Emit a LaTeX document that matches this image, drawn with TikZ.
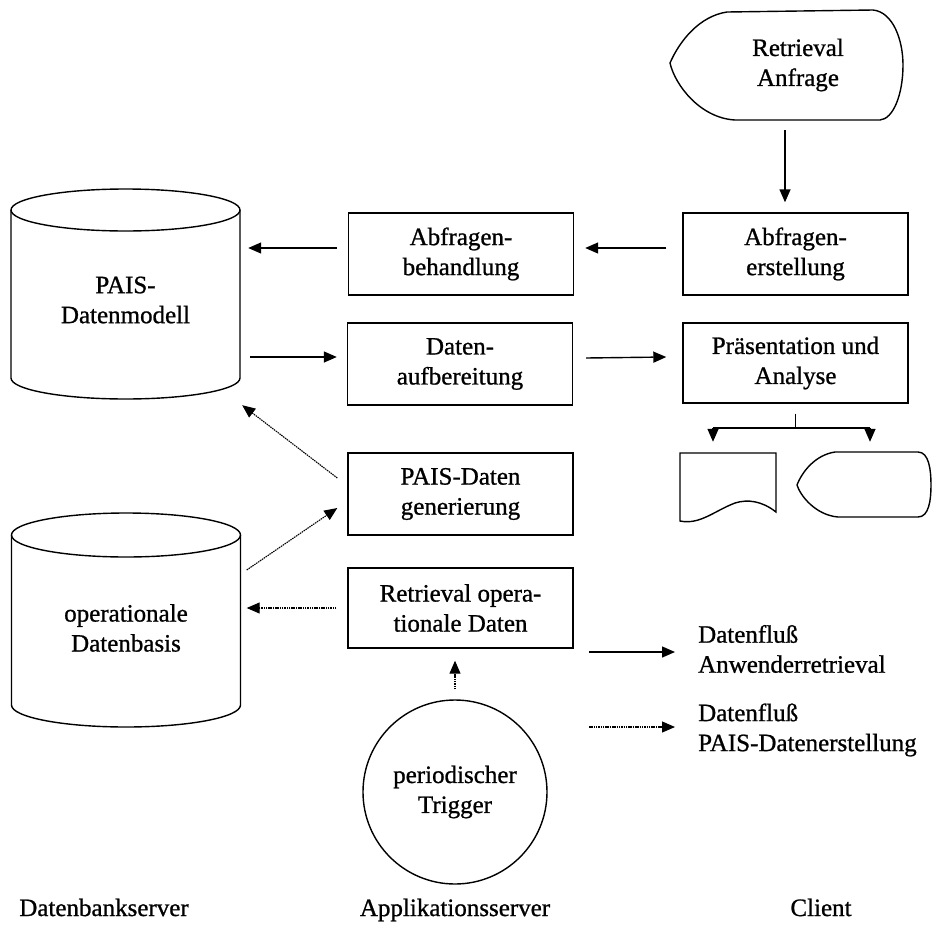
\documentclass[tikz,border=0pt]{standalone}
\usepackage{fontspec}
\setmainfont{Liberation Serif}[FakeBold=0.9]
\usetikzlibrary{arrows.meta,shapes.geometric}
\newcommand{\lblfont}{\fontsize{25}{30}\selectfont}
\tikzset{
  box/.style={draw, line width=1.4pt, minimum width=225pt, minimum height=82pt, align=center, font=\lblfont, inner sep=0pt},
  ghost/.style={inner sep=0pt, align=center, font=\lblfont},
  shp/.style={line width=1.4pt},
  arr/.style={-{Triangle[length=13pt,width=11pt]}, line width=1.4pt},
  darr/.style={-{Triangle[length=13pt,width=11pt]}, line width=1.1pt, dash pattern=on 1.5pt off 0.8pt},
  lbl/.style={font=\lblfont, align=left, inner sep=0pt}
}
\begin{document}
\begin{tikzpicture}[x=1pt,y=-1pt]
\useasboundingbox (0,0) rectangle (934,940);
% cylinders
\draw[shp] (125.5,210) ellipse [x radius=114.5, y radius=21];
\draw[shp] (11,210) -- (11,378) arc[start angle=180, end angle=0, x radius=114.5, y radius=21] -- (240,210);
\draw[shp] (126,535) ellipse [x radius=114.5, y radius=22];
\draw[shp] (11.5,535) -- (11.5,705) arc[start angle=180, end angle=0, x radius=114.5, y radius=22] -- (240.5,535);
\node[ghost, minimum width=229pt, minimum height=189pt] (pais) at (125.5,294.5) {};
\node[ghost] (paist) at (125.5,300) {PAIS-\\Datenmodell};
\node[ghost, minimum width=229pt, minimum height=214pt] (oper) at (126,620) {};
\node[ghost] (opert) at (126,628) {operationale\\Datenbasis};
% top display shape
\draw[shp] (727,12) -- (873,10) .. controls (893,12) and (903,40) .. (903,65)
  .. controls (903,95) and (893,119) .. (880,120) -- (735,120)
  .. controls (700,118) and (675,85) .. (670,63)
  .. controls (680,40) and (700,16) .. (727,12) -- cycle;
\node[ghost, minimum width=230pt, minimum height=110pt] (anfr) at (786,65) {};
\node[ghost] (anfrt) at (798,65) {Retrieval\\Anfrage};
% boxes
\node[box] (erst) at (795.5,254) {Abfragen-\\erstellung};
\node[box] (behand) at (461,254) {Abfragen-\\behandlung};
\node[box] (aufb) at (460,364) {Daten-\\aufbereitung};
\node[box, minimum height=80pt] (praes) at (795.5,363) {Präsentation und\\Analyse};
\node[box] (gen) at (460.5,494) {PAIS-Daten\\generierung};
\node[box, minimum height=80pt] (retr) at (460.5,608) {Retrieval opera-\\tionale Daten};
\node[draw, line width=1.4pt, circle, minimum size=184pt, inner sep=0pt, align=center, font=\lblfont] (trig) at (455,792) {periodischer\\Trigger};
% output shapes
\draw[shp] (680,453) -- (776,453) -- (776,512)
  .. controls (762,501) and (748,499) .. (735,503)
  .. controls (714,511) and (700,525) .. (680,521) -- cycle;
\node[ghost, minimum width=96pt, minimum height=69pt] (doc) at (728,487.5) {};
\draw[shp] (835,452) -- (918,452) .. controls (929,452) and (931,470) .. (931,485)
  .. controls (931,500) and (929,517) .. (918,517) -- (838,517)
  .. controls (815,515) and (800,495) .. (797,485)
  .. controls (802,472) and (815,455) .. (835,452) -- cycle;
\node[ghost, minimum width=134pt, minimum height=65pt] (disp) at (864,484.5) {};
% connectors
\draw[arr] ([yshift=-10pt]anfr.south -| 785,0) -- ([yshift=10pt]erst.north -| 785,0);
\draw[arr] ([xshift=-16pt,yshift=6pt]erst.west) -- ([xshift=11pt,yshift=6pt]behand.east);
\draw[arr] ([xshift=-11pt,yshift=6pt]behand.west) -- ([xshift=8pt,yshift=6pt]pais.east |- behand.west);
\draw[arr] ([xshift=10pt,yshift=7pt]pais.east |- aufb.west) -- ([xshift=-10pt,yshift=7pt]aufb.west);
\draw[arr] ([xshift=13pt,yshift=6pt]aufb.east) -- ([xshift=-16pt,yshift=6pt]praes.west);
\coordinate (split) at (795.5,428);
\coordinate (dl) at (713,428);
\coordinate (dr) at (870,428);
\draw[line width=1.4pt] ([yshift=-10pt]praes.south) -- (split);
\draw[line width=1.4pt] (dl) -- (dr);
\draw[arr] (dl) -- ([yshift=11pt]dl |- doc.north);
\draw[arr] (dr) -- ([yshift=10pt]dr |- disp.north);
\draw[darr] ([xshift=-10pt,yshift=16pt]gen.west) -- ([xshift=2pt,yshift=-16pt]pais.south east);
\draw[darr] ([xshift=6pt,yshift=50pt]oper.east) -- ([xshift=-10pt,yshift=-14pt]gen.west);
\draw[darr] ([xshift=-11pt]retr.west) -- ([xshift=6pt]oper.east |- retr.west);
\draw[darr] ([yshift=10pt]trig.north) -- ([yshift=-12pt]trig.north |- retr.south);
% legend
\node[lbl, anchor=west] (leg1) at (698,649) {Datenfluß\\Anwenderretrieval};
\node[lbl, anchor=west] (leg2) at (698,730) {Datenfluß\\PAIS-Datenerstellung};
\coordinate (l1) at (589,652);
\coordinate (l2) at (589,727);
\draw[arr] (l1) -- ([xshift=-23pt]leg1.west |- l1);
\draw[darr] (l2) -- ([xshift=-23pt]leg2.west |- l2);
% tier labels
\node[lbl, anchor=base] (t1) at (104,916) {Datenbankserver};
\node[lbl, anchor=base] (t2) at (455,916) {Applikationsserver};
\node[lbl, anchor=base] (t3) at (821,916) {Client};
\end{tikzpicture}
\end{document}
